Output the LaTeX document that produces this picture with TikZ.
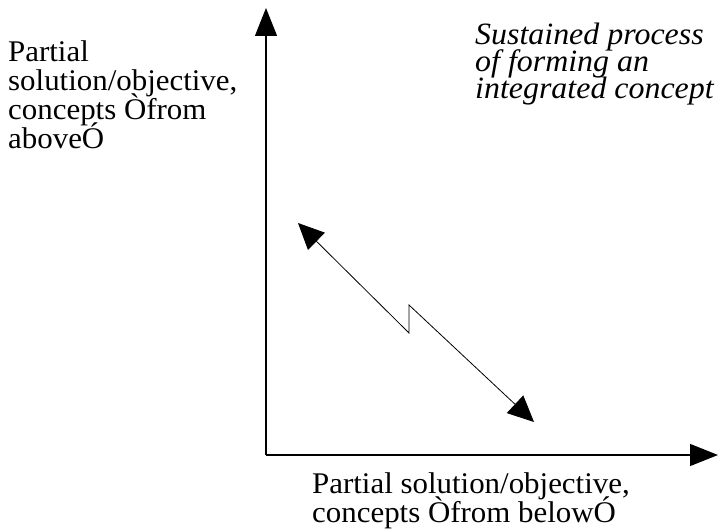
\documentclass[tikz,border=0pt]{standalone}
\usepackage{fontspec}
\setmainfont[FakeStretch=1.03]{Liberation Serif}
\usetikzlibrary{arrows.meta}
% fixed line spacing, even where glyphs come close
\newcommand{\tightlines}{\lineskiplimit=-100pt\relax}
\begin{document}
\begin{tikzpicture}[x=1pt,y=-1pt,
  axis/.style={line width=1.1pt, -{Triangle[length=28pt,width=22pt]}},
  link/.style={line width=0.8pt,
    {Triangle[length=26pt,width=24pt]}-{Triangle[length=26pt,width=24pt]}},
  lbl/.style={inner sep=0pt, anchor=base west, align=left,
    font=\fontsize{30}{29}\selectfont\tightlines},
  note/.style={inner sep=0pt, anchor=base west, align=left,
    font=\fontsize{31}{27}\selectfont\itshape\tightlines}]
\useasboundingbox (0,0) rectangle (718,529);

% axes
\coordinate (O) at (266,455);
\coordinate (ytip) at (266,8);
\coordinate (xtip) at (718,455);
\draw[axis] (O) -- (ytip);
\draw[axis] (O) -- (xtip);

% double-headed arrow with a jog in the middle
\coordinate (pA) at (298,223);
\coordinate (pB) at (409,333);
\coordinate (pC) at (409,305);
\coordinate (pD) at (534,422);
\draw[link] (pA) -- (pB) -- (pC) -- (pD);

% labels (anchored at the baseline of their last line)
\node[lbl] (above) at (8,149)
  {Partial\\solution/objective,\\concepts Òfrom\\aboveÓ};
\node[lbl] (below) at (312,522)
  {Partial solution/objective,\\concepts Òfrom belowÓ};
\node[note] (process) at (475,99)
  {Sustained process\\of forming an\\integrated concept};
\end{tikzpicture}
\end{document}
